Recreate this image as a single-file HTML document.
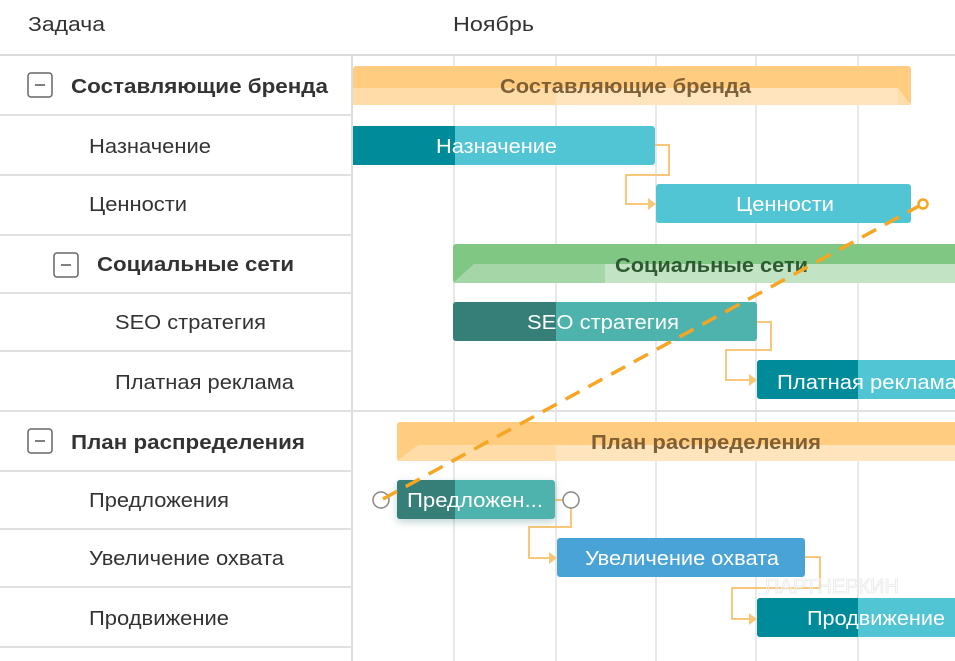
<!DOCTYPE html>
<html><head><meta charset="utf-8"><style>
html,body{margin:0;padding:0;background:#fff;}
svg{display:block;}
text{font-family:"Liberation Sans","DejaVu Sans",sans-serif;}
</style></head><body>
<svg width="955" height="661" viewBox="0 0 955 661" xmlns="http://www.w3.org/2000/svg">
<rect width="955" height="661" fill="#fff"/>
<g stroke="#e2e2e2" stroke-width="1.5">
<line x1="454" y1="55" x2="454" y2="661"/>
<line x1="556" y1="55" x2="556" y2="661"/>
<line x1="656" y1="55" x2="656" y2="661"/>
<line x1="756" y1="55" x2="756" y2="661"/>
<line x1="858" y1="55" x2="858" y2="661"/>
</g>
<line x1="352" y1="55" x2="352" y2="661" stroke="#dcdcdc" stroke-width="2"/>
<line x1="0" y1="55" x2="955" y2="55" stroke="#dcdcdc" stroke-width="2"/>
<g stroke="#e0e0e0" stroke-width="2">
<line x1="0" y1="115" x2="352" y2="115"/>
<line x1="0" y1="175" x2="352" y2="175"/>
<line x1="0" y1="235" x2="352" y2="235"/>
<line x1="0" y1="293" x2="352" y2="293"/>
<line x1="0" y1="351" x2="352" y2="351"/>
<line x1="0" y1="411" x2="955" y2="411"/>
<line x1="0" y1="471" x2="352" y2="471"/>
<line x1="0" y1="529" x2="352" y2="529"/>
<line x1="0" y1="587" x2="352" y2="587"/>
<line x1="0" y1="647" x2="352" y2="647"/>
</g>
<g font-size="20" fill="#333" lengthAdjust="spacingAndGlyphs">
<text x="28" y="31" textLength="77" lengthAdjust="spacingAndGlyphs">Задача</text>
<text x="453" y="31" textLength="81" lengthAdjust="spacingAndGlyphs">Ноябрь</text>
</g>
<g fill="none" stroke="#666" stroke-width="1.5">
<rect x="28" y="73" width="24" height="24" rx="3"/>
<rect x="54" y="253" width="24" height="24" rx="3"/>
<rect x="28" y="429" width="24" height="24" rx="3"/>
</g>
<g stroke="#555" stroke-width="1.5"><line x1="35" y1="85" x2="45" y2="85"/><line x1="61" y1="265" x2="71" y2="265"/><line x1="35" y1="441" x2="45" y2="441"/></g>
<g font-size="20" fill="#333">
<text x="71" y="93" font-weight="bold" textLength="257" lengthAdjust="spacingAndGlyphs">Составляющие бренда</text>
<text x="89" y="153" textLength="122" lengthAdjust="spacingAndGlyphs">Назначение</text>
<text x="89" y="211" textLength="98" lengthAdjust="spacingAndGlyphs">Ценности</text>
<text x="97" y="271" font-weight="bold" textLength="197" lengthAdjust="spacingAndGlyphs">Социальные сети</text>
<text x="115" y="329" textLength="151" lengthAdjust="spacingAndGlyphs">SEO стратегия</text>
<text x="115" y="389" textLength="179" lengthAdjust="spacingAndGlyphs">Платная реклама</text>
<text x="71" y="449" font-weight="bold" textLength="234" lengthAdjust="spacingAndGlyphs">План распределения</text>
<text x="89" y="507" textLength="140" lengthAdjust="spacingAndGlyphs">Предложения</text>
<text x="89" y="565" textLength="195" lengthAdjust="spacingAndGlyphs">Увеличение охвата</text>
<text x="89" y="625" textLength="140" lengthAdjust="spacingAndGlyphs">Продвижение</text>
</g>
<g fill="none" stroke="#f9c77a" stroke-width="2">
<polyline points="655,145 669,145 669,175 626,175 626,204 650,204"/>
<polyline points="757,322 771,322 771,350 726,350 726,380 751,380"/>
<polyline points="555,500 571,500 571,527 529,527 529,558 551,558"/>
<polyline points="805,557 820,557 820,588 732,588 732,619 751,619"/>
</g>
<g fill="#f9c77a">
<polygon points="656,204 648,198 648,210"/>
<polygon points="757,380 749,374 749,386"/>
<polygon points="557,558 549,552 549,564"/>
<polygon points="757,619 749,613 749,625"/>
</g>
<rect x="353" y="66" width="558" height="39" rx="3" fill="#ffcc80"/>
<polygon points="353,88 898,88 911,105 353,105" fill="#ffdca8"/>
<rect x="556" y="88" width="342" height="17" fill="#ffe4bd"/>
<text x="500" y="93" font-size="20" font-weight="bold" fill="#7f5f33" textLength="251" lengthAdjust="spacingAndGlyphs">Составляющие бренда</text>
<rect x="453" y="244" width="510" height="39" rx="3" fill="#81c784"/>
<polygon points="453,283 474,264 963,264 963,283" fill="#a5d6a7"/>
<rect x="605" y="264" width="358" height="19" fill="#c3e4c4"/>
<text x="615" y="272" font-size="20" font-weight="bold" fill="#2d5a30" textLength="193" lengthAdjust="spacingAndGlyphs">Социальные сети</text>
<rect x="397" y="422" width="570" height="39" rx="3" fill="#ffcc80"/>
<polygon points="397,461 418,445 967,445 967,461" fill="#ffdca8"/>
<rect x="556" y="445" width="411" height="16" fill="#ffe4bd"/>
<text x="591" y="449" font-size="20" font-weight="bold" fill="#7f5f33" textLength="230" lengthAdjust="spacingAndGlyphs">План распределения</text>
<rect x="353" y="126" width="302" height="39" rx="3" fill="#52c5d4"/>
<rect x="353" y="126" width="102" height="39" fill="#008b9a"/>
<text x="436" y="153" font-size="20" fill="#fff" textLength="121" lengthAdjust="spacingAndGlyphs">Назначение</text>
<rect x="656" y="184" width="255" height="39" rx="3" fill="#52c5d4"/>
<text x="736" y="211" font-size="20" fill="#fff" textLength="98" lengthAdjust="spacingAndGlyphs">Ценности</text>
<rect x="453" y="302" width="304" height="39" rx="3" fill="#4db3ac"/>
<path d="M456,302 H556 V341 H456 A3,3 0 0 1 453,338 V305 A3,3 0 0 1 456,302Z" fill="#357f78"/>
<text x="527" y="329" font-size="20" fill="#fff" textLength="152" lengthAdjust="spacingAndGlyphs">SEO стратегия</text>
<rect x="757" y="360" width="210" height="39" rx="3" fill="#52c5d4"/>
<rect x="757" y="360" width="101" height="39" rx="3" fill="#008b9a"/>
<rect x="850" y="360" width="8" height="39" fill="#008b9a"/>
<text x="777" y="389" font-size="20" fill="#fff" textLength="180" lengthAdjust="spacingAndGlyphs">Платная реклама</text>
<rect x="397" y="480" width="158" height="39" rx="3" fill="#4db3ac" style="filter:drop-shadow(0 3px 4px rgba(0,80,80,0.25))"/>
<path d="M400,480 H455 V519 H400 A3,3 0 0 1 397,516 V483 A3,3 0 0 1 400,480Z" fill="#357f78"/>
<text x="407" y="507" font-size="20" fill="#fff" textLength="136" lengthAdjust="spacingAndGlyphs">Предложен...</text>
<rect x="557" y="538" width="248" height="39" rx="3" fill="#4aa3d6"/>
<text x="585" y="565" font-size="20" fill="#fff" textLength="194" lengthAdjust="spacingAndGlyphs">Увеличение охвата</text>
<rect x="757" y="598" width="210" height="39" rx="3" fill="#52c5d4"/>
<rect x="757" y="598" width="101" height="39" rx="3" fill="#008b9a"/>
<rect x="850" y="598" width="8" height="39" fill="#008b9a"/>
<text x="807" y="625" font-size="20" fill="#fff" textLength="138" lengthAdjust="spacingAndGlyphs">Продвижение</text>
<text x="765" y="593" font-size="20" fill="none" stroke="#ececec" stroke-width="1">ПАРТНЕРКИН</text>
<circle cx="381" cy="500" r="8" fill="#fff" stroke="#888" stroke-width="1.5"/>
<circle cx="571" cy="500" r="8" fill="#fff" stroke="#888" stroke-width="1.5"/>
<line x1="383" y1="499" x2="919" y2="206" stroke="#f5a623" stroke-width="3.5" stroke-dasharray="16,10"/>
<circle cx="923" cy="204" r="4.5" fill="#fff" stroke="#f5a623" stroke-width="2.5"/>
</svg>
</body></html>
